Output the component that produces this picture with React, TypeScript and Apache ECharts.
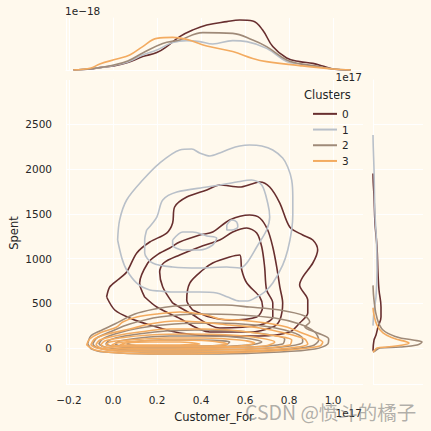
import React, { useEffect, useRef } from "react";
import * as echarts from "echarts";

const BG = "#FFF9ED";
const TEXT = "#262626";
const WHITE = "#FFFFFF";
const FONT = "DejaVu Sans";

const clusterNames = ["0", "1", "2", "3"];
const clusterColors = ["#682F2F", "#B9C0C9", "#9F8A78", "#F3AB60"];

// ---- cluster 0 contours (Customer_For, Spent)
const c0L1 = [[-0.029,570],[-0.015,682],[0.021,760],[0.062,849],[0.108,1062],[0.167,1185],[0.244,1285],[0.271,1397],[0.280,1576],[0.335,1687],[0.426,1766],[0.485,1822],[0.576,1799],[0.630,1833],[0.667,1855],[0.712,1799],[0.758,1620],[0.803,1352],[0.862,1263],[0.908,1207],[0.930,1095],[0.908,950],[0.862,793],[0.848,704],[0.885,536],[0.885,391],[0.848,279],[0.803,179],[0.667,134],[0.485,134],[0.303,168],[0.167,257],[0.076,335],[0.008,425]];
const c0L2 = [[0.144,570],[0.121,726],[0.158,950],[0.199,1039],[0.258,1118],[0.303,1185],[0.394,1263],[0.453,1296],[0.530,1430],[0.621,1486],[0.667,1453],[0.703,1319],[0.726,1129],[0.744,905],[0.758,682],[0.771,503],[0.758,313],[0.726,235],[0.621,179],[0.440,179],[0.290,346],[0.199,458]];
const c0L3 = [[0.271,503],[0.226,682],[0.212,849],[0.230,950],[0.303,1039],[0.394,1129],[0.485,1207],[0.544,1296],[0.608,1341],[0.653,1285],[0.676,1129],[0.689,905],[0.698,648],[0.726,503],[0.726,346],[0.667,257],[0.485,224],[0.349,391]];
const c0L4 = [[0.362,425],[0.335,536],[0.349,726],[0.408,872],[0.453,950],[0.530,1017],[0.576,1039],[0.585,872],[0.608,726],[0.667,570],[0.680,458],[0.653,346],[0.530,313],[0.440,346]];

// ---- cluster 1 contours
const c1L1 = [[0.021,1207],[0.030,1430],[0.062,1654],[0.135,1877],[0.212,2067],[0.303,2213],[0.358,2224],[0.394,2179],[0.440,2146],[0.485,2179],[0.530,2224],[0.576,2257],[0.621,2268],[0.676,2257],[0.726,2213],[0.771,2123],[0.794,2023],[0.812,1877],[0.817,1687],[0.817,1486],[0.812,1319],[0.794,1095],[0.771,927],[0.726,726],[0.689,626],[0.653,570],[0.612,525],[0.576,525],[0.521,570],[0.471,615],[0.394,626],[0.326,626],[0.271,626],[0.212,637],[0.167,648],[0.108,726],[0.062,872],[0.040,1006]];
const c1L2 = [[0.153,1319],[0.199,1464],[0.226,1654],[0.290,1743],[0.426,1799],[0.485,1822],[0.562,1855],[0.630,1877],[0.676,1822],[0.703,1620],[0.712,1464],[0.698,1319],[0.653,1129],[0.608,950],[0.576,894],[0.517,905],[0.394,894],[0.271,905],[0.180,950],[0.144,1062],[0.144,1207]];
const c1L3 = [[0.271,1207],[0.317,1296],[0.362,1296],[0.426,1252],[0.471,1229],[0.453,1151],[0.394,1095],[0.317,1095],[0.271,1151]];
const c1L4 = [[0.517,1375],[0.540,1430],[0.562,1408],[0.567,1352],[0.540,1319],[0.517,1319]];

// ---- cluster 2 contours
const c2L1 = [[-0.115,45],[-0.101,134],[-0.060,190],[0.008,268],[0.099,380],[0.190,436],[0.280,469],[0.394,481],[0.508,481],[0.621,458],[0.758,425],[0.872,358],[0.894,291],[0.872,235],[0.930,168],[0.980,101],[0.976,45],[0.917,-11],[0.758,-45],[0.485,-67],[0.167,-67],[-0.038,-45],[-0.097,-11]];
const c2L2 = [[-0.092,45],[-0.074,112],[-0.015,179],[0.076,268],[0.212,346],[0.394,380],[0.576,369],[0.735,335],[0.848,268],[0.917,179],[0.935,89],[0.903,22],[0.758,-22],[0.485,-45],[0.167,-45],[-0.015,-22],[-0.079,11]];
const c2L3 = [[-0.065,45],[-0.047,101],[0.008,156],[0.121,224],[0.280,268],[0.462,279],[0.644,257],[0.780,201],[0.858,123],[0.862,67],[0.803,22],[0.621,-11],[0.349,-22],[0.076,-22],[-0.038,11]];
const c2L4 = [[-0.033,45],[-0.015,89],[0.053,134],[0.190,179],[0.372,201],[0.553,190],[0.689,156],[0.780,101],[0.771,45],[0.621,11],[0.349,0],[0.099,0],[-0.006,22]];
const c2L5 = [[0.008,45],[0.030,78],[0.121,112],[0.258,134],[0.440,134],[0.599,112],[0.676,67],[0.621,34],[0.394,11],[0.144,11],[0.035,22]];
const c2L6 = [[0.062,45],[0.090,67],[0.212,89],[0.394,89],[0.530,67],[0.508,34],[0.303,22],[0.121,22]];

// ---- cluster 3 contours
const c3L1 = [[-0.120,34],[-0.106,101],[-0.060,168],[0.017,235],[0.044,291],[0.108,346],[0.199,380],[0.303,402],[0.426,369],[0.485,324],[0.576,313],[0.698,279],[0.789,235],[0.848,179],[0.908,123],[0.953,67],[0.940,22],[0.848,-11],[0.621,-45],[0.303,-67],[0.030,-56],[-0.083,-22]];
const c3L2 = [[-0.101,34],[-0.083,101],[-0.024,156],[0.076,212],[0.167,268],[0.280,302],[0.394,291],[0.530,257],[0.667,224],[0.780,168],[0.871,101],[0.885,45],[0.803,0],[0.576,-34],[0.258,-45],[0.008,-34],[-0.074,0]];
const c3L3 = [[-0.078,34],[-0.060,89],[0.008,134],[0.121,179],[0.258,212],[0.417,212],[0.576,190],[0.712,145],[0.812,89],[0.803,34],[0.621,-11],[0.303,-22],[0.030,-22],[-0.056,0]];
const c3L4 = [[-0.056,34],[-0.038,78],[0.030,112],[0.167,145],[0.349,156],[0.530,145],[0.667,112],[0.735,67],[0.689,22],[0.485,0],[0.212,-11],[0.008,0],[-0.042,11]];
const c3L5 = [[-0.033,34],[-0.015,67],[0.076,89],[0.235,112],[0.417,112],[0.576,89],[0.644,56],[0.576,22],[0.349,11],[0.099,11],[-0.015,22]];
const c3L6 = [[-0.006,34],[0.017,56],[0.121,78],[0.280,89],[0.440,78],[0.521,45],[0.440,22],[0.212,22],[0.021,22]];
const c3L7 = [[0.030,34],[0.058,56],[0.167,67],[0.303,67],[0.394,45],[0.303,34],[0.121,34]];

const contours = [
  [c0L1, c0L2, c0L3, c0L4],
  [c1L1, c1L2, c1L3, c1L4],
  [c2L1, c2L2, c2L3, c2L4, c2L5, c2L6],
  [c3L1, c3L2, c3L3, c3L4, c3L5, c3L6, c3L7],
];

// ---- top marginal density of Customer_For (x, density x1e-18)
const top0 = [[-0.18,0],[-0.10,0.05],[-0.06,0.12],[0.0,0.2],[0.067,0.37],[0.135,0.67],[0.199,0.87],[0.244,1.17],[0.303,1.67],[0.362,2.0],[0.426,2.25],[0.517,2.42],[0.576,2.5],[0.635,2.45],[0.680,2.0],[0.726,1.17],[0.789,0.6],[0.848,0.42],[0.908,0.33],[0.953,0.2],[0.999,0.05],[1.08,0]];
const top1 = [[-0.18,0],[-0.10,0.06],[0.0,0.22],[0.067,0.4],[0.135,0.75],[0.199,1.0],[0.271,1.37],[0.335,1.47],[0.394,1.42],[0.453,1.3],[0.544,1.47],[0.608,1.42],[0.698,1.08],[0.789,0.42],[0.848,0.3],[0.908,0.2],[0.999,0.05],[1.08,0]];
const top2 = [[-0.18,0],[-0.10,0.06],[0.0,0.24],[0.067,0.45],[0.135,0.85],[0.226,1.33],[0.303,1.5],[0.408,1.87],[0.544,1.83],[0.635,1.5],[0.698,1.17],[0.789,0.5],[0.848,0.32],[0.908,0.22],[0.999,0.05],[1.08,0]];
const top3 = [[-0.18,0],[-0.10,0.1],[-0.06,0.3],[0.017,0.55],[0.076,0.75],[0.135,1.17],[0.199,1.58],[0.271,1.63],[0.335,1.53],[0.426,1.2],[0.544,0.92],[0.635,0.58],[0.698,0.42],[0.848,0.22],[0.999,0.05],[1.08,0]];
const topDensity = [top0, top1, top2, top3];

// ---- right marginal density of Spent (density x1e-3, Spent)
const right0 = [[0,-30],[0.04,89],[0.12,145],[0.2,235],[0.32,346],[0.32,458],[0.24,648],[0.2,838],[0.16,1129],[0.08,1397],[0.04,1700],[0.01,1850],[0,1950]];
const right1 = [[0,250],[0.02,350],[0.06,458],[0.12,570],[0.16,870],[0.14,1200],[0.08,1500],[0.04,2000],[0.01,2250],[0,2380]];
const right2 = [[0,-45],[0.08,-34],[0.28,0],[1.08,11],[1.76,34],[1.96,67],[1.6,89],[0.96,123],[0.4,201],[0.16,335],[0.04,536],[0,700]];
const right3 = [[0,-45],[0.04,-34],[0.16,0],[0.56,11],[1.2,34],[1.44,56],[1.36,67],[0.8,112],[0.4,168],[0.16,257],[0.04,369],[0,450]];
const rightDensity = [right0, right1, right2, right3];

const X_MIN = -0.2136, X_MAX = 1.136;
const Y_MIN = -402, Y_MAX = 2995;
const X_STEP = 0.2, Y_STEP = 500;

const closeLoop = (pts: number[][]) => [...pts, pts[0]];

export default function App() {
  const ref = useRef<HTMLDivElement>(null);
  useEffect(() => {
    if (!ref.current) return;
    const chart = echarts.init(ref.current, undefined, { renderer: "svg" });
    const series: any[] = [];
    contours.forEach((levels, ci) => {
      levels.forEach((lv) => {
        series.push({
          type: "line", name: clusterNames[ci], xAxisIndex: 0, yAxisIndex: 0,
          data: closeLoop(lv), smooth: 0.3, symbol: "none", silent: true,
          lineStyle: { color: clusterColors[ci], width: 1.6 },
          itemStyle: { color: clusterColors[ci] },
        });
      });
    });
    topDensity.forEach((d, ci) => {
      series.push({
        type: "line", name: clusterNames[ci], xAxisIndex: 1, yAxisIndex: 1,
        data: d, smooth: 0.4, symbol: "none", silent: true,
        lineStyle: { color: clusterColors[ci], width: 1.6 },
        itemStyle: { color: clusterColors[ci] },
      });
    });
    rightDensity.forEach((d, ci) => {
      series.push({
        type: "line", name: clusterNames[ci], xAxisIndex: 2, yAxisIndex: 2,
        data: d, smooth: 0.4, symbol: "none", silent: true,
        lineStyle: { color: clusterColors[ci], width: 1.6 },
        itemStyle: { color: clusterColors[ci] },
      });
    });

    const fmtX = (v: number) => {
      const k = v / X_STEP;
      if (Math.abs(k - Math.round(k)) > 1e-6) return "";
      const s = (Math.round(k) * X_STEP).toFixed(1);
      return s.replace("-", "\u2212");
    };
    const fmtY = (v: number) => {
      const k = v / Y_STEP;
      if (Math.abs(k - Math.round(k)) > 1e-6) return "";
      return String(Math.round(k) * Y_STEP).replace("-", "\u2212");
    };
    const whiteLine = { show: true, lineStyle: { color: WHITE, width: 1 } };
    const split = { show: true, showMaxLine: false, lineStyle: { color: WHITE, width: 1 } };

    chart.setOption({
      animation: false,
      backgroundColor: BG,
      textStyle: { fontFamily: FONT },
      grid: [
        { left: 66, top: 80, width: 297, height: 304 },
        { left: 66, top: 18, width: 297, height: 52 },
        { left: 373, top: 80, width: 50, height: 304 },
      ],
      xAxis: [
        {
          type: "value", gridIndex: 0, min: X_MIN, max: X_MAX, minInterval: X_STEP, maxInterval: X_STEP,
          axisLine: whiteLine, axisTick: { show: false }, splitLine: split,
          axisLabel: { formatter: fmtX, color: TEXT, fontSize: 10.5, fontFamily: FONT, margin: 10, showMinLabel: false, showMaxLabel: false },
        },
        {
          type: "value", gridIndex: 1, min: X_MIN, max: X_MAX, minInterval: X_STEP, maxInterval: X_STEP,
          axisLine: whiteLine, axisTick: { show: false }, splitLine: split, axisLabel: { show: false },
        },
        {
          type: "value", gridIndex: 2, min: 0, max: 2.0,
          axisLine: whiteLine, axisTick: { show: false }, splitLine: { show: false }, axisLabel: { show: false },
        },
      ],
      yAxis: [
        {
          type: "value", gridIndex: 0, min: Y_MIN, max: Y_MAX, minInterval: Y_STEP, maxInterval: Y_STEP,
          axisLine: whiteLine, axisTick: { show: false }, splitLine: split,
          axisLabel: { formatter: fmtY, color: TEXT, fontSize: 10.5, fontFamily: FONT, margin: 14, showMinLabel: false, showMaxLabel: false },
        },
        {
          type: "value", gridIndex: 1, min: 0, max: 2.6,
          axisLine: whiteLine, axisTick: { show: false }, splitLine: { show: false }, axisLabel: { show: false },
        },
        {
          type: "value", gridIndex: 2, min: Y_MIN, max: Y_MAX, minInterval: Y_STEP, maxInterval: Y_STEP,
          axisLine: whiteLine, axisTick: { show: false }, splitLine: split, axisLabel: { show: false },
        },
      ],
      legend: {
        data: clusterNames.map((n) => ({ name: n, icon: "rect" })),
        orient: "vertical", left: 308, top: 101, itemWidth: 24, itemHeight: 2, itemGap: 0,
        selectedMode: false,
        textStyle: { color: TEXT, fontSize: 10.5, fontFamily: FONT, lineHeight: 15.7 },
      },
      graphic: [
        { type: "text", left: 304, top: 89, silent: true, style: { text: "Clusters", fill: TEXT, fontSize: 11.5, fontFamily: FONT } },
        { type: "text", x: 14, y: 233, rotation: Math.PI / 2, silent: true, style: { text: "Spent", fill: TEXT, fontSize: 11.5, fontFamily: FONT, align: "center", verticalAlign: "middle" } },
        { type: "text", x: 214, y: 417, silent: true, style: { text: "Customer_For", fill: TEXT, fontSize: 11.5, fontFamily: FONT, align: "center", verticalAlign: "middle" } },
        { type: "text", x: 65, y: 11, silent: true, style: { text: "1e\u221218", fill: TEXT, fontSize: 10.5, fontFamily: FONT, align: "left", verticalAlign: "middle" } },
        { type: "text", x: 362, y: 77, silent: true, style: { text: "1e17", fill: TEXT, fontSize: 10.5, fontFamily: FONT, align: "right", verticalAlign: "middle" } },
        { type: "text", x: 362, y: 413, silent: true, style: { text: "1e17", fill: TEXT, fontSize: 10.5, fontFamily: FONT, align: "right", verticalAlign: "middle" } },
        { type: "text", x: 245, y: 411, silent: true, z: 100, style: { text: "CSDN @愤斗的橘子", fill: "rgba(110,110,110,0.55)", fontSize: 19.5, fontFamily: "Noto Sans CJK SC", align: "left", verticalAlign: "middle" } },
      ],
      series,
    });
    return () => chart.dispose();
  }, []);
  return <div ref={ref} style={{ position: "fixed", left: 0, top: 0, width: 431, height: 431 }} />;
}
